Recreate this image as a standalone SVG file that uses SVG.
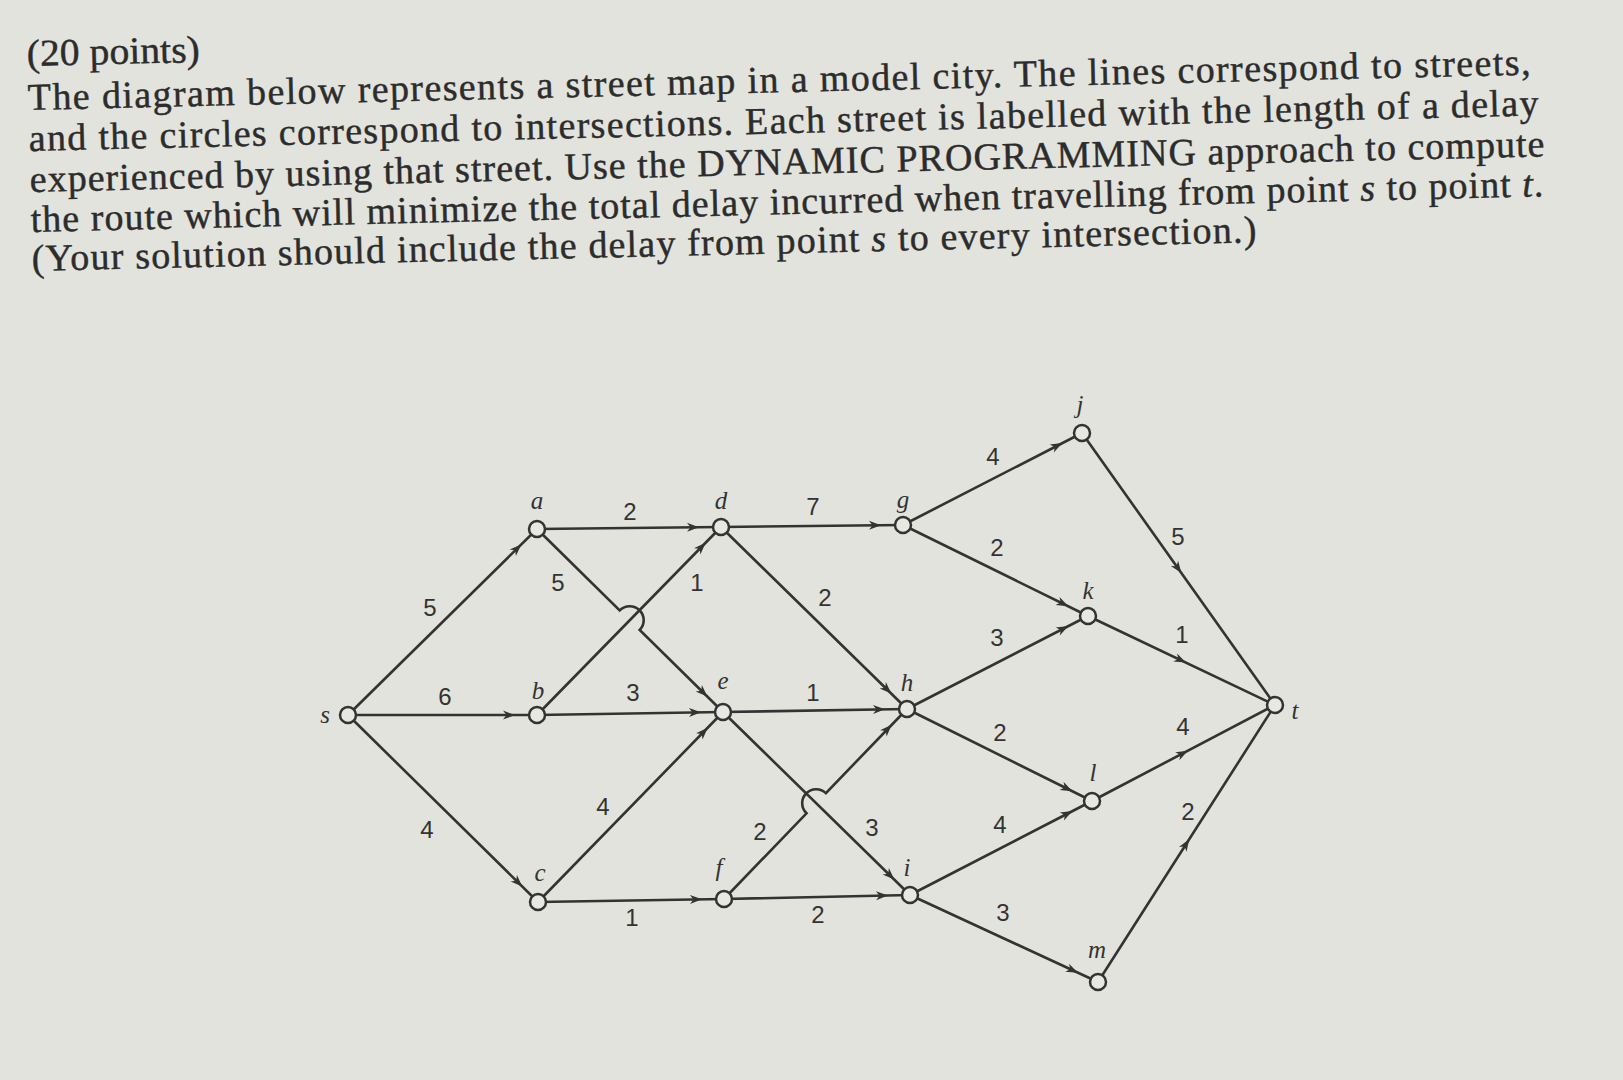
<svg xmlns="http://www.w3.org/2000/svg" xmlns:xlink="http://www.w3.org/1999/xlink" width="1623" height="1080" viewBox="0 0 1623 1080">
<style>
.bg{fill:#e2e3dd}
.title{font-family:"Liberation Serif","Times New Roman",serif;font-size:38px;fill:#2c2c2c;stroke:#2c2c2c;stroke-width:0.45}
.edge{fill:none;stroke:#333;stroke-width:2.6;stroke-linecap:round}
.node circle{fill:#e7e8e2;stroke:#333;stroke-width:2.5}
.nl{font-family:"Liberation Serif","Times New Roman",serif;font-style:italic;font-size:25px;fill:#333;text-anchor:middle}
.el{font-family:"Liberation Sans",Arial,sans-serif;font-size:24px;fill:#333;text-anchor:middle}
.ah{fill:#333}
</style>
<defs>
<path id="ah" d="M0,0 L-12,-4.5 L-8.5,0 L-12,4.5 Z"/>
</defs>
<rect class="bg" x="0" y="0" width="1623" height="1080"/>

<g id="question" transform="rotate(-1.35 30 190)">
<text class="title" x="30" y="66" textLength="173" lengthAdjust="spacingAndGlyphs">(20 points)</text>
<text class="title" x="30" y="110" textLength="1503" lengthAdjust="spacing">The diagram below represents a street map in a model city. The lines correspond to streets,</text>
<text class="title" x="30" y="151" textLength="1510" lengthAdjust="spacing">and the circles correspond to intersections. Each street is labelled with the length of a delay</text>
<text class="title" x="30" y="192" textLength="1515" lengthAdjust="spacing">experienced by using that street. Use the DYNAMIC PROGRAMMING approach to compute</text>
<text class="title" x="30" y="232" textLength="1513" lengthAdjust="spacing">the route which will minimize the total delay incurred when travelling from point <tspan font-style="italic">s</tspan> to point <tspan font-style="italic">t</tspan>.</text>
<text class="title" x="30" y="271" textLength="1225" lengthAdjust="spacing">(Your solution should include the delay from point <tspan font-style="italic">s</tspan> to every intersection.)</text>
</g>

<g id="connectors">
<path class="edge" d="M348,715 L537,529"/>
<path class="edge" d="M348,715 L537,715"/>
<path class="edge" d="M348,715 L538,902"/>
<path class="edge" d="M537,529 L721,527"/>
<path class="edge" d="M537,529 L619.7,610.4 A14,14 0 0 1 639.7,630 L723,712"/>
<path class="edge" d="M537,715 L721,527"/>
<path class="edge" d="M537,715 L723,712"/>
<path class="edge" d="M538,902 L723,712"/>
<path class="edge" d="M538,902 L724,899"/>
<path class="edge" d="M721,527 L903,525"/>
<path class="edge" d="M721,527 L907,709"/>
<path class="edge" d="M723,712 L907,709"/>
<path class="edge" d="M723,712 L910,895"/>
<path class="edge" d="M724,899 L806.5,813.3 A14,14 0 0 1 825.9,793.1 L907,709"/>
<path class="edge" d="M724,899 L910,895"/>
<path class="edge" d="M903,525 L1082,433"/>
<path class="edge" d="M903,525 L1088,616"/>
<path class="edge" d="M907,709 L1088,616"/>
<path class="edge" d="M907,709 L1092,801"/>
<path class="edge" d="M910,895 L1092,801"/>
<path class="edge" d="M910,895 L1098,982"/>
<path class="edge" d="M1082,433 L1275,705"/>
<path class="edge" d="M1088,616 L1275,705"/>
<path class="edge" d="M1092,801 L1275,705"/>
<path class="edge" d="M1098,982 L1275,705"/>

<use xlink:href="#ah" class="ah" transform="translate(521.3,544.4) rotate(-44.53)"/>
<use xlink:href="#ah" class="ah" transform="translate(515,715) rotate(0)"/>
<use xlink:href="#ah" class="ah" transform="translate(522.3,886.6) rotate(44.54)"/>
<use xlink:href="#ah" class="ah" transform="translate(699,527.2) rotate(-0.62)"/>
<use xlink:href="#ah" class="ah" transform="translate(707.3,696.6) rotate(44.54)"/>
<use xlink:href="#ah" class="ah" transform="translate(705.6,542.7) rotate(-45.62)"/>
<use xlink:href="#ah" class="ah" transform="translate(701,712.35) rotate(-0.92)"/>
<use xlink:href="#ah" class="ah" transform="translate(707.7,727.8) rotate(-45.76)"/>
<use xlink:href="#ah" class="ah" transform="translate(702,899.35) rotate(-0.92)"/>
<use xlink:href="#ah" class="ah" transform="translate(881,525.24) rotate(-0.63)"/>
<use xlink:href="#ah" class="ah" transform="translate(891.3,693.6) rotate(44.38)"/>
<use xlink:href="#ah" class="ah" transform="translate(885,709.36) rotate(-0.93)"/>
<use xlink:href="#ah" class="ah" transform="translate(894.3,879.6) rotate(44.38)"/>
<use xlink:href="#ah" class="ah" transform="translate(891.7,724.8) rotate(-46.08)"/>
<use xlink:href="#ah" class="ah" transform="translate(888,895.47) rotate(-1.23)"/>
<use xlink:href="#ah" class="ah" transform="translate(1062.4,443.1) rotate(-27.2)"/>
<use xlink:href="#ah" class="ah" transform="translate(1068.3,606.3) rotate(26.19)"/>
<use xlink:href="#ah" class="ah" transform="translate(1068.4,626.1) rotate(-27.19)"/>
<use xlink:href="#ah" class="ah" transform="translate(1072.3,791.2) rotate(26.44)"/>
<use xlink:href="#ah" class="ah" transform="translate(1072.5,811.1) rotate(-27.31)"/>
<use xlink:href="#ah" class="ah" transform="translate(1078,972.8) rotate(24.83)"/>
<use xlink:href="#ah" class="ah" transform="translate(1181.4,573.1) rotate(54.64)"/>
<use xlink:href="#ah" class="ah" transform="translate(1186,662.6) rotate(25.45)"/>
<use xlink:href="#ah" class="ah" transform="translate(1187.9,750.7) rotate(-27.68)"/>
<use xlink:href="#ah" class="ah" transform="translate(1189.2,839.3) rotate(-57.42)"/>

<text class="el" x="430" y="616">5</text>
<text class="el" x="445" y="705">6</text>
<text class="el" x="427" y="838">4</text>
<text class="el" x="630" y="520">2</text>
<text class="el" x="558" y="591">5</text>
<text class="el" x="697" y="591">1</text>
<text class="el" x="633" y="701">3</text>
<text class="el" x="603" y="815">4</text>
<text class="el" x="632" y="926">1</text>
<text class="el" x="813" y="515">7</text>
<text class="el" x="825" y="606">2</text>
<text class="el" x="813" y="701">1</text>
<text class="el" x="872" y="836">3</text>
<text class="el" x="760" y="840">2</text>
<text class="el" x="818" y="923">2</text>
<text class="el" x="993" y="465">4</text>
<text class="el" x="997" y="556">2</text>
<text class="el" x="997" y="646">3</text>
<text class="el" x="1000" y="741">2</text>
<text class="el" x="1000" y="833">4</text>
<text class="el" x="1003" y="921">3</text>
<text class="el" x="1178" y="545">5</text>
<text class="el" x="1182" y="643">1</text>
<text class="el" x="1183" y="735">4</text>
<text class="el" x="1188" y="820">2</text>
</g>

<g id="node-s" class="node"><circle cx="348" cy="715" r="8"/><text class="nl" x="325" y="723">s</text></g>
<g id="node-a" class="node"><circle cx="537" cy="529" r="8"/><text class="nl" x="537" y="509">a</text></g>
<g id="node-b" class="node"><circle cx="537" cy="715" r="8"/><text class="nl" x="538" y="699">b</text></g>
<g id="node-c" class="node"><circle cx="538" cy="902" r="8"/><text class="nl" x="540" y="881">c</text></g>
<g id="node-d" class="node"><circle cx="721" cy="527" r="8"/><text class="nl" x="721" y="509">d</text></g>
<g id="node-e" class="node"><circle cx="723" cy="712" r="8"/><text class="nl" x="723" y="689">e</text></g>
<g id="node-f" class="node"><circle cx="724" cy="899" r="8"/><text class="nl" x="719" y="876">f</text></g>
<g id="node-g" class="node"><circle cx="903" cy="525" r="8"/><text class="nl" x="903" y="508">g</text></g>
<g id="node-h" class="node"><circle cx="907" cy="709" r="8"/><text class="nl" x="907" y="691">h</text></g>
<g id="node-i" class="node"><circle cx="910" cy="895" r="8"/><text class="nl" x="907" y="876">i</text></g>
<g id="node-j" class="node"><circle cx="1082" cy="433" r="8"/><text class="nl" x="1080" y="413">j</text></g>
<g id="node-k" class="node"><circle cx="1088" cy="616" r="8"/><text class="nl" x="1088" y="599">k</text></g>
<g id="node-l" class="node"><circle cx="1092" cy="801" r="8"/><text class="nl" x="1093" y="781">l</text></g>
<g id="node-m" class="node"><circle cx="1098" cy="982" r="8"/><text class="nl" x="1097" y="958">m</text></g>
<g id="node-t" class="node"><circle cx="1275" cy="705" r="8"/><text class="nl" x="1295" y="719">t</text></g>
</svg>
